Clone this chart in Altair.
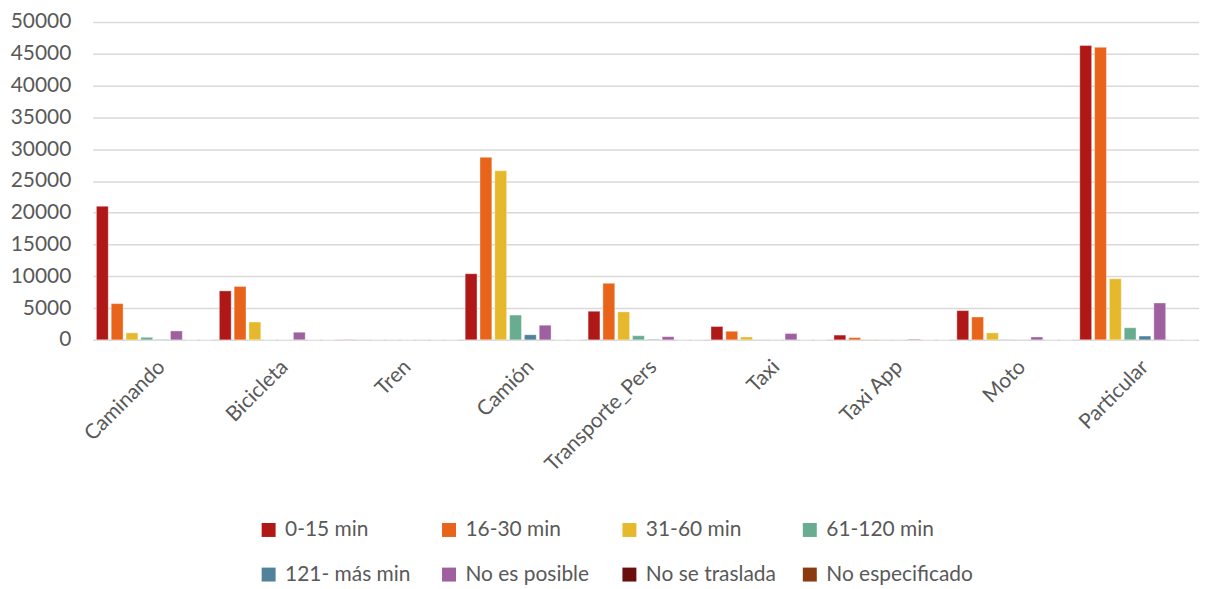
import altair as alt
import pandas as pd

categories = ["Caminando", "Bicicleta", "Tren", "Camión", "Transporte_Pers",
              "Taxi", "Taxi App", "Moto", "Particular"]
series = ["0-15 min", "16-30 min", "31-60 min", "61-120 min",
          "121- más min", "No es posible", "No se traslada", "No especificado"]
colors = ["#B01717", "#E8641A", "#E6B82C", "#68AD8F",
          "#50829C", "#9E609E", "#6B0E0E", "#8B3A10"]

v_0_15 = [21000, 7700, 30, 10400, 4500, 2100, 750, 4600, 46300]
v_16_30 = [5700, 8400, 20, 28700, 8900, 1350, 350, 3600, 46000]
v_31_60 = [1100, 2800, 10, 26600, 4400, 450, 60, 1100, 9600]
v_61_120 = [400, 30, 5, 3900, 650, 40, 10, 60, 1900]
v_121 = [60, 10, 2, 800, 80, 10, 5, 20, 600]
v_no_posible = [1400, 1200, 10, 2300, 500, 1000, 100, 450, 5800]
v_no_traslada = [0, 0, 0, 0, 0, 0, 0, 0, 0]
v_no_especificado = [0, 0, 0, 0, 0, 0, 0, 0, 0]

all_vals = [v_0_15, v_16_30, v_31_60, v_61_120, v_121,
            v_no_posible, v_no_traslada, v_no_especificado]

rows = []
for s, vals in zip(series, all_vals):
    for c, v in zip(categories, vals):
        rows.append({"cat": c, "serie": s, "valor": v})
df = pd.DataFrame(rows)

FONT = "Lato"
GREY = "#595959"
FS = 21

chart = alt.Chart(df).mark_bar(stroke="white", strokeWidth=0.6, strokeOpacity=0.6).encode(
    x=alt.X("cat:N", sort=categories, title=None,
            scale=alt.Scale(paddingInner=0.0, paddingOuter=0.0),
            axis=alt.Axis(labelAngle=-45, labelFontSize=FS, labelColor=GREY,
                          labelFont=FONT, ticks=False, domain=False,
                          labelPadding=16)),
    xOffset=alt.XOffset("serie:N", sort=series,
                        scale=alt.Scale(paddingInner=0.2, paddingOuter=0.25)),
    y=alt.Y("valor:Q", title=None,
            scale=alt.Scale(domain=[0, 50000], nice=False),
            axis=alt.Axis(values=list(range(0, 50001, 5000)), format="d",
                          labelFontSize=FS, labelColor=GREY, labelFont=FONT,
                          ticks=False, domain=False, gridColor="#D9D9D9",
                          gridWidth=1.5, labelPadding=22)),
    color=alt.Color("serie:N", sort=series,
                    scale=alt.Scale(domain=series, range=colors),
                    legend=alt.Legend(title=None, orient="none", legendX=166,
                                      legendY=499, columns=4, direction="horizontal",
                                      gridAlign="all",
                                      symbolType="square", symbolSize=196,
                                      symbolStrokeWidth=0, labelFontSize=FS,
                                      labelColor=GREY, labelFont=FONT,
                                      columnPadding=6, rowPadding=23,
                                      labelOffset=6, labelLimit=300)),
).properties(
    width=1110, height=319,
    autosize=alt.AutoSizeParams(type="none"),
    padding={"left": 85, "top": 13, "right": 0, "bottom": 250},
).configure_view(stroke=None)

chart.save("out.html", embed_options={"renderer": "svg", "actions": False})
